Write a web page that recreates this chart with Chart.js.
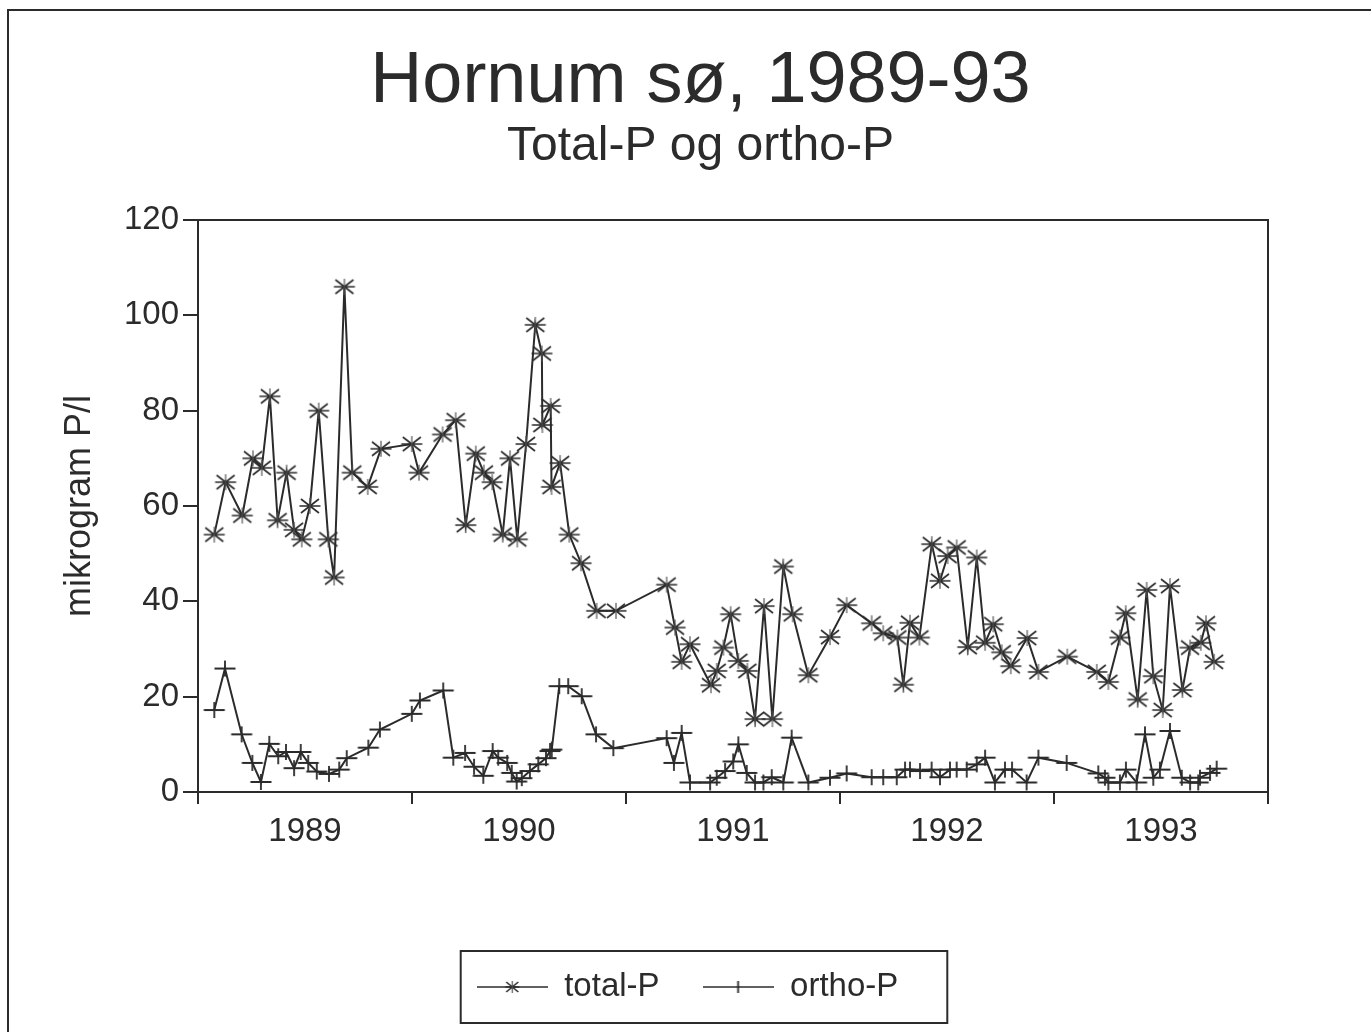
<!DOCTYPE html>
<html><head><meta charset="utf-8">
<script src="https://cdn.jsdelivr.net/npm/chart.js@4.4.0/dist/chart.umd.min.js"></script>
<style>html,body{margin:0;padding:0;background:#fff;}</style>
</head><body>
<canvas id="c" width="1371" height="1032"></canvas>
<script>
const titleText = 'Hornum sø, 1989-93';
const subtitleText = 'Total-P og ortho-P';
const yAxisTitle = 'mikrogram P/l';
const seriesNames = ['total-P', 'ortho-P'];
const yearLabels = [1989, 1990, 1991, 1992, 1993];
const yTickValues = [0, 20, 40, 60, 80, 100, 120];

const totalDates = [1989.076,1989.129,1989.207,1989.257,1989.298,1989.336,1989.372,1989.414,1989.449,1989.485,
  1989.523,1989.564,1989.609,1989.636,1989.684,1989.721,1989.793,1989.855,1989.999,1990.033,
  1990.143,1990.204,1990.251,1990.298,1990.336,1990.375,1990.424,1990.458,1990.492,1990.533,
  1990.576,1990.607,1990.609,1990.648,1990.652,1990.692,1990.735,1990.790,1990.863,1990.953,
  1991.190,1991.229,1991.260,1991.299,1991.397,1991.424,1991.455,1991.489,1991.525,1991.567,
  1991.603,1991.645,1991.684,1991.735,1991.779,1991.852,1991.953,1992.031,1992.148,1992.202,
  1992.268,1992.296,1992.327,1992.371,1992.429,1992.467,1992.503,1992.545,1992.597,1992.639,
  1992.678,1992.716,1992.756,1992.798,1992.875,1992.927,1993.062,1993.200,1993.254,1993.308,
  1993.335,1993.391,1993.433,1993.464,1993.508,1993.542,1993.600,1993.636,1993.686,1993.710,1993.748];
const totalValues = [54,65,58,70,68,83,57,67,55,53,
  60,80,53,45,106,67,64,72,73,67,
  75,78,56,71,67,65,54,70,53,73,
  98,92,77,81,64,69,54,48,38,38,
  43.5,34.5,27.3,31,22.4,25.4,30.3,37.3,27.5,25.4,
  15.3,39,15.3,47.3,37.3,24.5,32.5,39.2,35.4,33.3,
  32.4,22.5,35.5,32.4,52,44.3,49.5,51.3,30.4,49.2,
  31.3,35.2,29.3,26.4,32.3,25.2,28.4,25.2,23.1,32.4,
  37.5,19.4,42.4,24.3,17.2,43.2,21.4,30.3,31.3,35.4,27.3];

const orthoDates = [1989.076,1989.126,1989.204,1989.254,1989.294,1989.333,1989.375,1989.411,1989.449,1989.480,
  1989.515,1989.555,1989.612,1989.660,1989.695,1989.796,1989.850,1989.999,1990.037,1990.146,
  1990.193,1990.248,1990.290,1990.333,1990.377,1990.403,1990.445,1990.466,1990.489,1990.513,
  1990.551,1990.590,1990.626,1990.645,1990.653,1990.688,1990.730,1990.793,1990.860,1990.941,
  1991.190,1991.224,1991.260,1991.299,1991.393,1991.424,1991.463,1991.501,1991.525,1991.564,
  1991.603,1991.642,1991.681,1991.735,1991.774,1991.852,1991.953,1992.031,1992.148,1992.202,
  1992.265,1992.304,1992.327,1992.374,1992.428,1992.467,1992.514,1992.545,1992.592,1992.639,
  1992.678,1992.724,1992.771,1992.804,1992.872,1992.927,1993.059,1993.207,1993.238,1993.254,
  1993.308,1993.336,1993.386,1993.425,1993.464,1993.495,1993.542,1993.597,1993.636,1993.674,
  1993.682,1993.729,1993.760];
const orthoValues = [17.2,25.9,12.1,6.1,2.1,10.1,7.5,8.4,5.0,8.4,
  6.1,4.3,3.8,4.7,7.1,9.3,13.1,16.4,19.2,21.3,
  7.2,8.2,5.3,3.4,8.6,7.2,6.1,4.0,2.2,2.9,
  4.4,5.8,7.1,8.6,8.9,22.2,22.2,20.1,12.1,9.2,
  11.3,6.1,12.4,2.0,2.0,3.0,4.4,6.4,10.0,4.0,
  2.0,2.0,3.1,2.0,11.4,2.0,3.0,3.9,3.1,3.1,
  3.1,4.7,4.7,4.4,4.7,3.1,4.7,4.7,4.7,5.8,
  7.2,2.0,4.7,4.7,2.0,7.2,6.1,3.9,3.0,2.0,
  2.0,4.7,2.0,12.1,3.0,4.7,12.8,3.0,2.0,2.0,
  3.0,4.0,4.9];

const INK = '#2b2b2b';
const FONT = "'Liberation Sans', Arial, Helvetica, sans-serif";

function makeIcon(w, h, drawFn) {
  const c = document.createElement('canvas');
  c.width = w; c.height = h;
  const g = c.getContext('2d');
  g.translate(w / 2, h / 2);
  g.strokeStyle = INK;
  g.lineCap = 'butt';
  drawFn(g, w, h);
  return c;
}
function drawStar(g, rx, ry, dx, dy) {
  g.lineWidth = 1.6;
  g.beginPath();
  g.moveTo(-rx, 0); g.lineTo(rx, 0);
  g.moveTo(-dx, -dy); g.lineTo(dx, dy);
  g.moveTo(-dx, dy); g.lineTo(dx, -dy);
  g.stroke();
  g.strokeStyle = '#555';
  g.lineWidth = 1.2;
  g.beginPath();
  g.moveTo(0, -ry); g.lineTo(0, ry);
  g.stroke();
}
function drawCross(g, rx, ry) {
  g.lineWidth = 1.8;
  g.beginPath();
  g.moveTo(-rx, 0); g.lineTo(rx, 0);
  g.moveTo(0, -ry); g.lineTo(0, ry);
  g.stroke();
}
const starPoint = makeIcon(24, 20, g => drawStar(g, 10.5, 8, 9, 7));
const crossPoint = makeIcon(24, 20, g => drawCross(g, 10.5, 8));
const starLegend = makeIcon(71, 20, g => {
  g.lineWidth = 1.6; g.beginPath(); g.moveTo(-35.5, 0); g.lineTo(35.5, 0); g.stroke();
  drawStar(g, 7, 6, 6, 5);
});
const crossLegend = makeIcon(71, 20, g => {
  g.lineWidth = 1.6; g.beginPath(); g.moveTo(-35.5, 0); g.lineTo(35.5, 0); g.stroke();
  drawCross(g, 1, 6);
});

const totalData = totalDates.map((d, i) => ({x: d, y: totalValues[i]}));
const orthoData = orthoDates.map((d, i) => ({x: d, y: orthoValues[i]}));

const legendShift = {
  id: 'legendShift',
  afterLayout(chart) {
    const l = chart.legend;
    if (l) { l.left -= 13; l.right -= 13; }
  }
};
const frames = {
  id: 'frames',
  afterDraw(chart) {
    const ctx = chart.ctx;
    const a = chart.chartArea;
    ctx.save();
    ctx.strokeStyle = INK;
    ctx.lineWidth = 2;
    ctx.strokeRect(a.left, a.top, a.right - a.left, a.bottom - a.top);
    ctx.beginPath();
    ctx.moveTo(8, 1032); ctx.lineTo(8, 10); ctx.lineTo(1371, 10);
    ctx.stroke();
    const hb = chart.legend && chart.legend.legendHitBoxes;
    if (hb && hb.length) {
      const x0 = hb[0].left - 16;
      const last = hb[hb.length - 1];
      const x1 = last.left + last.width + 49;
      const cy = hb[0].top + hb[0].height / 2;
      ctx.lineWidth = 2;
      ctx.strokeRect(x0, cy - 36, x1 - x0, 72);
    }
    ctx.restore();
  }
};

new Chart(document.getElementById('c'), {
  type: 'line',
  data: {
    datasets: [
      {label: seriesNames[0], data: totalData, borderColor: INK, borderWidth: 2,
       pointStyle: starPoint, pointRadius: 10, pointHoverRadius: 10, fill: false, tension: 0},
      {label: seriesNames[1], data: orthoData, borderColor: INK, borderWidth: 2,
       pointStyle: crossPoint, pointRadius: 10, pointHoverRadius: 10, fill: false, tension: 0}
    ]
  },
  options: {
    responsive: false,
    animation: false,
    devicePixelRatio: 1,
    layout: {padding: {top: 36, left: 30, right: 0, bottom: 18.5}},
    plugins: {
      tooltip: {enabled: false},
      title: {display: true, text: titleText, color: INK,
        font: {family: FONT, size: 72, weight: 'normal', lineHeight: 1},
        padding: {top: 10, bottom: 0}},
      subtitle: {display: true, text: subtitleText, color: INK,
        font: {family: FONT, size: 48, weight: 'normal', lineHeight: 1},
        padding: {top: 5, bottom: 49}},
      legend: {
        display: true, position: 'bottom', align: 'center',
        labels: {
          usePointStyle: true, pointStyleWidth: 71, boxHeight: 20,
          padding: 43, color: INK,
          font: {family: FONT, size: 33},
          generateLabels(chart) {
            const items = Chart.defaults.plugins.legend.labels.generateLabels(chart);
            const icons = [starLegend, crossLegend];
            items.forEach((it, i) => { it.pointStyle = icons[i]; it.fontColor = INK; });
            return items;
          }
        }
      }
    },
    scales: {
      x: {
        type: 'linear', position: 'bottom',
        min: yearLabels[0], max: yearLabels[yearLabels.length - 1] + 1,
        afterBuildTicks(axis) { axis.ticks = yearLabels.map(y => ({value: y + 0.5})); },
        afterFit(scale) { scale.height = 135.5; },
        ticks: {
          autoSkip: false, maxRotation: 0, minRotation: 0, padding: 8, color: INK,
          font: {family: FONT, size: 33},
          callback: (v, i) => String(yearLabels[i])
        },
        grid: {offset: true, drawOnChartArea: false, drawTicks: true, tickLength: 12,
               color: INK, lineWidth: 2},
        border: {display: true, color: INK, width: 2}
      },
      y: {
        type: 'linear', position: 'left',
        min: yTickValues[0], max: yTickValues[yTickValues.length - 1],
        afterBuildTicks(axis) { axis.ticks = yTickValues.map(v => ({value: v})); },
        afterFit(scale) { scale.width = 168; },
        ticks: {padding: 4, color: INK, font: {family: FONT, size: 33}},
        grid: {drawOnChartArea: false, drawTicks: true, tickLength: 15, color: INK, lineWidth: 2},
        border: {display: true, color: INK, width: 2},
        title: {display: true, text: yAxisTitle, color: INK,
          font: {family: FONT, size: 36, lineHeight: 1},
          padding: {top: 32, bottom: 26}}
      },
      yR: {
        type: 'linear', position: 'right', display: true,
        afterFit(scale) { scale.width = 103; },
        ticks: {display: false},
        grid: {display: false, drawTicks: false},
        border: {display: false}
      }
    }
  },
  plugins: [legendShift, frames]
});
</script>
</body></html>
